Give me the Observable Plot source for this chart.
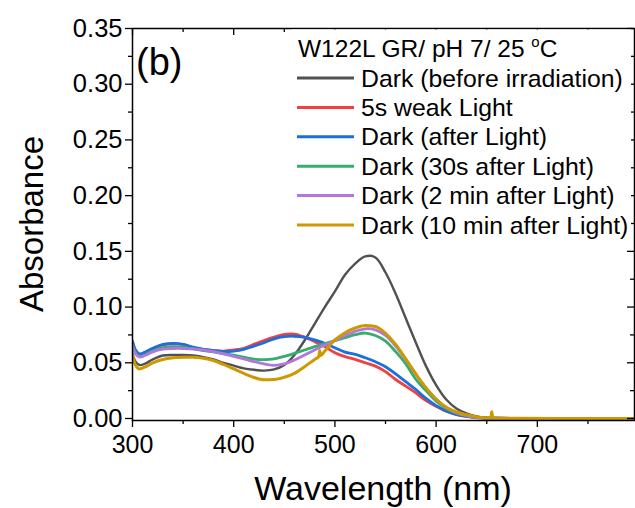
<!DOCTYPE html>
<html>
<head>
<meta charset="utf-8">
<script src="https://cdn.jsdelivr.net/npm/d3@7"></script>
<script src="https://cdn.jsdelivr.net/npm/@observablehq/plot@0.6"></script>
<style>
  body { margin: 0; background: #fff; }
  #chart svg { font-family: Arial, "Liberation Sans", sans-serif; }
</style>
</head>
<body>
<div id="chart"></div>
<script>
// ---------- data ----------
const wavelength = [300,303,307,312,320,330,340,350,360,370,380,390,400,410,420,430,440,450,460,470,480,490,500,510,520,530,540,550,560,570,580,590,600,610,620,630,640,650,660,680,720,760,800];

const darkBefore = [0.058,0.051,0.048,0.049,0.053,0.0565,0.057,0.057,0.0565,0.055,0.053,0.050,0.0475,0.045,0.0437,0.043,0.044,0.048,0.057,0.070,0.085,0.100,0.114,0.129,0.139,0.1455,0.1445,0.131,0.112,0.090,0.068,0.047,0.030,0.017,0.009,0.0045,0.0018,0.0006,0.0002,0.0001,0,0,0];

const light5s = [0.069,0.061,0.0575,0.059,0.0625,0.066,0.067,0.0665,0.0635,0.062,0.061,0.0605,0.0615,0.063,0.0665,0.070,0.073,0.0755,0.0758,0.073,0.069,0.0645,0.059,0.0555,0.053,0.050,0.047,0.042,0.035,0.029,0.023,0.016,0.011,0.0065,0.0035,0.0018,0.0008,0.0004,0.0002,0.0001,0,0,0];

const darkAfter = [0.0695,0.0615,0.058,0.0595,0.063,0.0665,0.0675,0.0665,0.064,0.062,0.061,0.060,0.0605,0.062,0.065,0.068,0.0715,0.0735,0.0738,0.0728,0.0705,0.0675,0.0635,0.0595,0.0575,0.0545,0.051,0.0465,0.040,0.033,0.026,0.018,0.0115,0.0068,0.0037,0.0019,0.0009,0.0004,0.0002,0.0001,0,0,0];

const dark30s = [0.0655,0.059,0.0555,0.057,0.0605,0.0635,0.0645,0.064,0.0625,0.061,0.0597,0.0583,0.0568,0.055,0.0533,0.0528,0.0535,0.0558,0.0585,0.0615,0.0645,0.0672,0.0698,0.0725,0.0752,0.0767,0.0745,0.0695,0.060,0.049,0.035,0.025,0.0155,0.009,0.005,0.0025,0.0011,0.0005,0.0002,0.0001,0,0,0];

const dark2min = [0.0645,0.058,0.0552,0.0565,0.0598,0.0622,0.0628,0.0628,0.0625,0.0615,0.060,0.058,0.0558,0.0535,0.051,0.049,0.0477,0.049,0.0525,0.057,0.0615,0.066,0.070,0.0745,0.0782,0.0805,0.0795,0.0745,0.065,0.0525,0.0395,0.0275,0.0172,0.0098,0.0052,0.0026,0.0011,0.0005,0.0002,0.0001,0,0,0];

const wavelength10min = [300,303,307,312,320,330,340,350,360,370,380,390,400,410,420,430,440,450,460,470,480,484,485,486,490,500,510,520,530,540,550,560,570,580,590,600,610,620,630,640,650,654,655,656,660,680,720,760,800];
const dark10min = [0.0565,0.048,0.0445,0.046,0.050,0.053,0.0545,0.055,0.055,0.054,0.052,0.0485,0.0445,0.0405,0.0368,0.0348,0.035,0.037,0.0405,0.0465,0.053,0.0555,0.061,0.0565,0.0605,0.0705,0.077,0.0812,0.0835,0.0825,0.0765,0.0665,0.0535,0.040,0.0275,0.0175,0.010,0.0058,0.0035,0.0014,0.0006,0.0005,0.006,0.0005,0.0003,0.0002,0.0001,0.0001,0.0001];

const seriesNames = ["Dark (before irradiation)","5s weak Light","Dark (after Light)","Dark (30s after Light)","Dark (2 min after Light)","Dark (10 min after Light)"];
const seriesColors = ["#515151","#F14040","#1A6FDF","#37AD6B","#B177DE","#CC9900"];
const legendTitle = "W122L GR/ pH 7/ 25 ";
const panelLabel = "(b)";
const xLabel = "Wavelength (nm)";
const yLabel = "Absorbance";

const xMajorTicks = [300,400,500,600,700];
const xMinorTicks = [350,450,550,650,750];
const yMajorTicks = [0,0.05,0.10,0.15,0.20,0.25,0.30,0.35];
const yMinorTicks = [0.025,0.075,0.125,0.175,0.225,0.275,0.325];

// ---------- build tidy rows ----------
const seriesX = [wavelength, wavelength, wavelength, wavelength, wavelength, wavelength10min];
const seriesY = [darkBefore, light5s, darkAfter, dark30s, dark2min, dark10min];
const seriesWidth = [2.4, 2.8, 2.8, 2.8, 2.8, 3];
const seriesCurve = ["catmull-rom","catmull-rom","catmull-rom","catmull-rom","catmull-rom","monotone-x"];
const seriesRows = seriesNames.map((name, k) =>
  seriesX[k].map((x, i) => ({series: name, x, y: seriesY[k][i]})));

// ---------- layout ----------
const W = 635, H = 508;
const mL = 132, mR = 1, mT = 28, mB = 88;
const innerW = W - mL - mR, innerH = H - mT - mB;
const fontFam = 'Arial, "Liberation Sans", sans-serif';

const lineMarks = seriesRows.map((rows, k) =>
  Plot.line(rows, {x: "x", y: "y", stroke: seriesColors[k], strokeWidth: seriesWidth[k], curve: seriesCurve[k], clip: true}));

const plot = Plot.plot({
  width: W, height: H,
  marginLeft: mL, marginRight: mR, marginTop: mT, marginBottom: mB,
  style: {fontFamily: fontFam, background: "white", color: "black", overflow: "visible"},
  x: {domain: [300, 796]},
  y: {domain: [-0.0018, 0.35]},
  marks: [
    ...lineMarks,
    // outward ticks, bottom and left
    Plot.axisX({ticks: xMajorTicks, tickSize: 7, tickPadding: 8, fontSize: 25, tickFormat: d => String(d), label: null, strokeWidth: 1.3}),
    Plot.axisX({ticks: xMinorTicks, tickSize: 4, tickFormat: () => "", label: null, strokeWidth: 1.3}),
    Plot.axisY({ticks: yMajorTicks, tickSize: 7, tickPadding: 3, fontSize: 25.5, tickFormat: d3.format(".2f"), label: null, strokeWidth: 1.3}),
    Plot.axisY({ticks: yMinorTicks, tickSize: 4, tickFormat: () => "", label: null, strokeWidth: 1.3}),
    // inward mirror ticks, top and right
    Plot.tickX(xMajorTicks, {x: d => d, insetBottom: innerH - 7, stroke: "black", strokeWidth: 1.3}),
    Plot.tickX(xMinorTicks, {x: d => d, insetBottom: innerH - 4, stroke: "black", strokeWidth: 1.3}),
    Plot.tickY(yMajorTicks, {y: d => d, insetLeft: innerW - 7, stroke: "black", strokeWidth: 1.3}),
    Plot.tickY(yMinorTicks, {y: d => d, insetLeft: innerW - 4, stroke: "black", strokeWidth: 1.3}),
    Plot.frame({stroke: "black", strokeWidth: 1.5})
  ]
});

const svg = d3.select(plot);

// legend box (white, covers the mirrored ticks beneath it)
const lg = svg.append("g").attr("font-family", fontFam).attr("text-anchor", "start");
lg.append("rect").attr("x", 292).attr("y", 29.5).attr("width", 339).attr("height", 208).attr("fill", "white");
const title = lg.append("text").attr("x", 298).attr("y", 57).attr("font-size", 24.5).attr("fill", "black").attr("text-anchor", "start");
title.append("tspan").text(legendTitle);
title.append("tspan").attr("font-size", 15).attr("dy", -10).text("o");
title.append("tspan").attr("dy", 10).text("C");
const rowY0 = 78, rowStep = 29.4;
seriesNames.forEach((name, k) => {
  const y = rowY0 + k * rowStep;
  lg.append("line").attr("x1", 297).attr("x2", 354).attr("y1", y).attr("y2", y)
    .attr("stroke", seriesColors[k]).attr("stroke-width", 3);
  lg.append("text").attr("x", 361).attr("y", y + 8.5).attr("font-size", 24.8).attr("fill", "black")
    .attr("text-anchor", "start").text(name);
});

// panel label
svg.append("text").attr("x", 136).attr("y", 75).attr("font-size", 38).attr("font-family", fontFam)
  .attr("text-anchor", "start").attr("fill", "black").text(panelLabel);

// axis titles
svg.append("text").attr("x", mL + innerW / 2).attr("y", 500).attr("text-anchor", "middle")
  .attr("font-size", 34).attr("font-family", fontFam).attr("fill", "black").text(xLabel);
svg.append("text").attr("transform", `translate(43,${mT + innerH / 2}) rotate(-90)`).attr("text-anchor", "middle")
  .attr("font-size", 33).attr("font-family", fontFam).attr("fill", "black").text(yLabel);

document.getElementById("chart").appendChild(plot);
</script>
</body>
</html>
